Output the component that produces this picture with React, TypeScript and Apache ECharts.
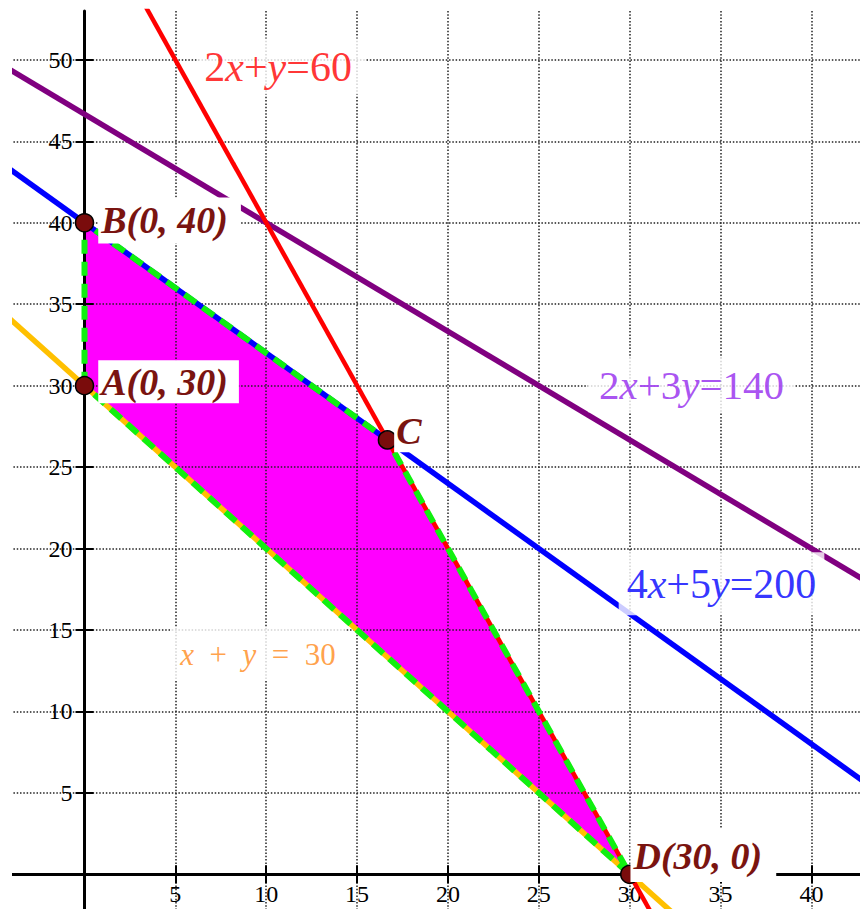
import React, { useEffect, useRef } from 'react';
import * as echarts from 'echarts';

// Constraints a*x + b*y = c
const constraintA = [1, 4, 2, 2];
const constraintB = [1, 5, 3, 1];
const constraintC = [30, 200, 140, 60];
const constraintColors = ['#ffc000', '#0000ff', '#800080', '#ff0000'];
const constraintWidths = [5.5, 5.5, 5.5, 4.5];

// Feasible region vertices
const vertexNames = ['A(0, 30)', 'B(0, 40)', 'C', 'D(30, 0)'];
const vertexX = [0, 0, 50 / 3, 30];
const vertexY = [30, 40, 80 / 3, 0];

// Axis extents / ticks
const X_MIN = -5;
const X_MAX = 42.67;
const Y_MIN = -5;
const Y_MAX = 53;
const TICK = 5;
const xTickValues = [5, 10, 15, 20, 25, 30, 35, 40];
const yTickValues = [5, 10, 15, 20, 25, 30, 35, 40, 45, 50];

const SERIF = 'Liberation Serif';

// Equation label texts (rich markup)
const eqTexts = [
  '{n|2}{i|x}{n|+}{i|y}{n|=60}',
  '{n|2}{i|x}{n|+3}{i|y}{n|=140}',
  '{n|4}{i|x}{n|+5}{i|y}{n|=200}',
  '{i|x}{n|\u2002+\u2002}{i|y}{n|\u2002=\u200230}',
];
// layout of the equation labels (anchor in data space, style)
const eqLayout = [
  { at: [10.87, 49.6], color: '#ff0000', size: 42, pad: [8, 14, 6, 6] },
  { at: [33.4, 30.05], color: '#9326ee', size: 41, pad: [7, 11] },
  { at: [35.05, 17.84], color: '#0000ff', size: 42, pad: [10.5, 8] },
  { at: [9.55, 13.52], color: '#ff8a1a', size: 31, pad: [10.5, 9] },
];
// layout of the vertex labels
const vertexLayout = [
  { offset: [4, -3.8], pad: [2.5, 11, 2.5, 3] },
  { offset: [4, -2.3], pad: [4, 13, 4, 3] },
  { offset: [-3, -8.6], pad: [2, 6, 2, 2] },
  { offset: [-9, -18.8], pad: [7.5, 14, 7.5, 3] },
];

export default function App() {
  const ref = useRef<HTMLDivElement>(null);
  useEffect(() => {
    const chart = echarts.init(ref.current!, null, { renderer: 'svg' });

    const GRID_LEFT = 13.625;
    const GRID_RIGHT = 0;
    const GRID_TOP = 11;
    const GRID_BOTTOM = 4.2;
    const W = 880;
    const H = 960;
    const pxPerX = (W - GRID_LEFT - GRID_RIGHT) / (X_MAX - X_MIN);
    const pxPerY = (H - GRID_TOP - GRID_BOTTOM) / (Y_MAX - Y_MIN);
    const yAxisOffset = -(0 - X_MIN) * pxPerX;
    const xAxisOffset = -(0 - Y_MIN) * pxPerY;

    const lineEnds = [X_MIN, 45];
    const lineSeries = constraintA.map((a, k) => ({
      type: 'line',
      z: 3,
      symbol: 'none',
      silent: true,
      clip: true,
      data: lineEnds.map((x) => [x, (constraintC[k] - a * x) / constraintB[k]]),
      lineStyle: { color: constraintColors[k], width: constraintWidths[k] },
    }));

    const verts = vertexX.map((x, i) => [x, vertexY[i]]);

    const axisFont = { fontFamily: SERIF, fontSize: 24, color: '#000' };
    const tickStyle = { color: '#000', width: 2 };
    const gridLine = { color: '#222', width: 1.5, type: [1.5, 1.8] };

    const makeX = (primary: boolean) => ({
      type: 'value',
      min: X_MIN,
      max: X_MAX,
      interval: TICK,
      position: 'bottom',
      offset: xAxisOffset,
      z: 2,
      axisLine: primary
        ? { show: true, onZero: false, lineStyle: { color: '#000', width: 3 } }
        : { show: false, onZero: false },
      axisTick: { show: true, inside: !primary, length: 9, lineStyle: tickStyle, customValues: xTickValues },
      axisLabel: primary
        ? { show: true, margin: 8, ...axisFont, customValues: xTickValues }
        : { show: false },
      splitLine: primary ? { show: true, lineStyle: gridLine } : { show: false },
    });
    const makeY = (primary: boolean) => ({
      type: 'value',
      min: Y_MIN,
      max: Y_MAX,
      interval: TICK,
      position: 'left',
      offset: yAxisOffset,
      z: 2,
      axisLine: primary
        ? { show: true, onZero: false, lineStyle: { color: '#000', width: 3 } }
        : { show: false, onZero: false },
      axisTick: { show: true, inside: !primary, length: 9, lineStyle: tickStyle, customValues: yTickValues },
      axisLabel: primary
        ? { show: true, margin: 12, ...axisFont, customValues: yTickValues }
        : { show: false },
      splitLine: primary ? { show: true, lineStyle: gridLine } : { show: false },
    });

    const option: any = {
      animation: false,
      backgroundColor: '#fff',
      grid: {
        left: GRID_LEFT,
        right: GRID_RIGHT,
        top: GRID_TOP,
        bottom: GRID_BOTTOM,
        containLabel: false,
        outerBoundsMode: 'none',
      },
      xAxis: [makeX(true), makeX(false)],
      yAxis: [makeY(true), makeY(false)],
      series: [
        {
          type: 'custom',
          z: 1,
          silent: true,
          data: [[0, 0]],
          renderItem: (params: any, api: any) => ({
            type: 'polygon',
            shape: { points: verts.map((p) => api.coord(p)) },
            style: { fill: '#ff00ff' },
          }),
        },
        ...lineSeries,
        {
          type: 'line',
          z: 4,
          symbol: 'none',
          silent: true,
          data: [...verts, verts[0]],
          lineStyle: { color: '#10f010', width: 6, type: [14, 8] },
        },
        {
          type: 'scatter',
          z: 5,
          silent: true,
          symbolSize: 1,
          itemStyle: { color: 'rgba(0,0,0,0)' },
          data: eqTexts.map((t, i) => {
            const L = eqLayout[i];
            const base = { fontFamily: SERIF, fontSize: L.size, lineHeight: L.size, color: L.color };
            return {
              value: L.at,
              label: {
                show: true,
                position: 'inside',
                formatter: t,
                backgroundColor: '#fff',
                padding: L.pad,
                rich: {
                  n: { ...base },
                  i: { ...base, fontStyle: 'italic' },
                },
              },
            };
          }),
        },
        {
          type: 'scatter',
          z: 6,
          silent: true,
          symbolSize: 18,
          itemStyle: { color: '#7a0c0c', borderColor: '#000', borderWidth: 1.5, opacity: 1 },
          label: {
            show: true,
            position: 'right',
            distance: 0,
            backgroundColor: '#fff',
            fontFamily: SERIF,
            fontSize: 38,
            lineHeight: 38,
            fontStyle: 'italic',
            fontWeight: 'bold',
            color: '#7a1410',
          },
          data: verts.map((p, i) => ({
            value: p,
            label: {
              formatter: vertexNames[i],
              offset: vertexLayout[i].offset,
              padding: vertexLayout[i].pad,
            },
          })),
        },
      ],
      graphic: [
        {
          type: 'rect',
          z: 100,
          silent: true,
          shape: { x: 0, y: 0, width: 32, height: H },
          style: { fill: '#fff' },
        },
      ],
    };

    chart.setOption(option);
    return () => chart.dispose();
  }, []);

  return (
    <div
      ref={ref}
      style={{ position: 'fixed', left: -20, top: 0, width: 880, height: 960, background: '#fff' }}
    />
  );
}
